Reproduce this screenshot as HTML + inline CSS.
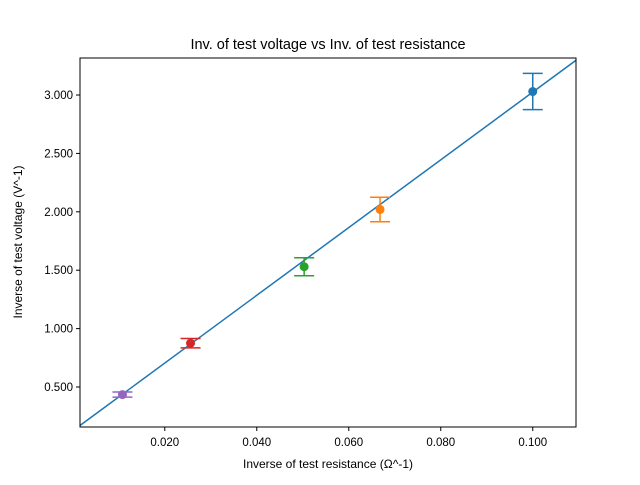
<!DOCTYPE html>
<html><head><meta charset="utf-8"><style>
body{margin:0;background:#fff;width:640px;height:480px;overflow:hidden}
text{font-family:"Liberation Sans","DejaVu Sans",sans-serif}
</style></head><body>
<svg id="chart" width="640" height="480" xmlns="http://www.w3.org/2000/svg">
<text x="328" y="49" font-size="14.5" text-anchor="middle">Inv. of test voltage vs Inv. of test resistance</text>
<text x="328" y="468" font-size="12" text-anchor="middle">Inverse of test resistance (Ω^-1)</text>
<text x="0" y="0" font-size="12" text-anchor="middle" transform="translate(22,242) rotate(-90)">Inverse of test voltage (V^-1)</text>
<g id="plot"></g>
<rect x="80" y="58" width="496" height="369" fill="none" stroke="#000" stroke-width="1"/>
</svg>
<script>
const xs=[0.1,0.0668,0.0503,0.0256,0.0108];
const ys=[3.03,2.02,1.53,0.875,0.435];
const errs=[0.155,0.105,0.077,0.04,0.022];
const colors=['#1f77b4','#ff7f0e','#2ca02c','#d62728','#9467bd'];
const xTicks=[0.02,0.04,0.06,0.08,0.1];
const yTicks=[0.5,1.0,1.5,2.0,2.5,3.0];
const fitSlope=29.0, fitIntercept=0.125;
const X0=80,X1=576,Y0=427,Y1=58,xmin=0.00157,xmax=0.1094,ymin=0.1575,ymax=3.317;
const sx=v=>X0+(v-xmin)/(xmax-xmin)*(X1-X0);
const sy=v=>Y0-(v-ymin)/(ymax-ymin)*(Y0-Y1);
const NS='http://www.w3.org/2000/svg';
const plot=document.getElementById('plot');
const svg=document.getElementById('chart');
function mk(t,a,p){const e=document.createElementNS(NS,t);for(const k in a)e.setAttribute(k,a[k]);(p||plot).appendChild(e);return e;}
xTicks.forEach(t=>{
  const l=mk('line',{x1:sx(t),x2:sx(t),y1:427,y2:431,stroke:'#000'},svg);
  
  
  const tx=mk('text',{x:sx(t),y:446,'font-size':'11.5','text-anchor':'middle'},svg);tx.textContent=t.toFixed(3);
  
  
});
yTicks.forEach(t=>{
  const l=mk('line',{x1:76,x2:80,y1:sy(t),y2:sy(t),stroke:'#000'},svg);
  
  
  const tx=mk('text',{x:73,y:sy(t)+4,'font-size':'11.5','text-anchor':'end'},svg);tx.textContent=t.toFixed(3);
  
  
});
const cp=mk('clipPath',{id:'cp'});mk('rect',{x:80,y:58,width:496,height:369},cp);
const fl=mk('line',{x1:sx(xmin),y1:sy(fitIntercept+fitSlope*xmin),x2:sx(xmax),y2:sy(fitIntercept+fitSlope*xmax),stroke:'#1f77b4','stroke-width':1.5,'clip-path':'url(#cp)'});


xs.forEach((x,i)=>{
  const g=mk('g',{});
  
  
  const c=colors[i],px=sx(x),t=sy(ys[i]+errs[i]),b=sy(ys[i]-errs[i]);
  mk('line',{x1:px,x2:px,y1:t,y2:b,stroke:c,'stroke-width':1.5},g);
  mk('line',{x1:px-10,x2:px+10,y1:t,y2:t,stroke:c,'stroke-width':1.5},g);
  mk('line',{x1:px-10,x2:px+10,y1:b,y2:b,stroke:c,'stroke-width':1.5},g);
  mk('circle',{cx:px,cy:sy(ys[i]),r:4.5,fill:c},g);
});
</script>
</body></html>
